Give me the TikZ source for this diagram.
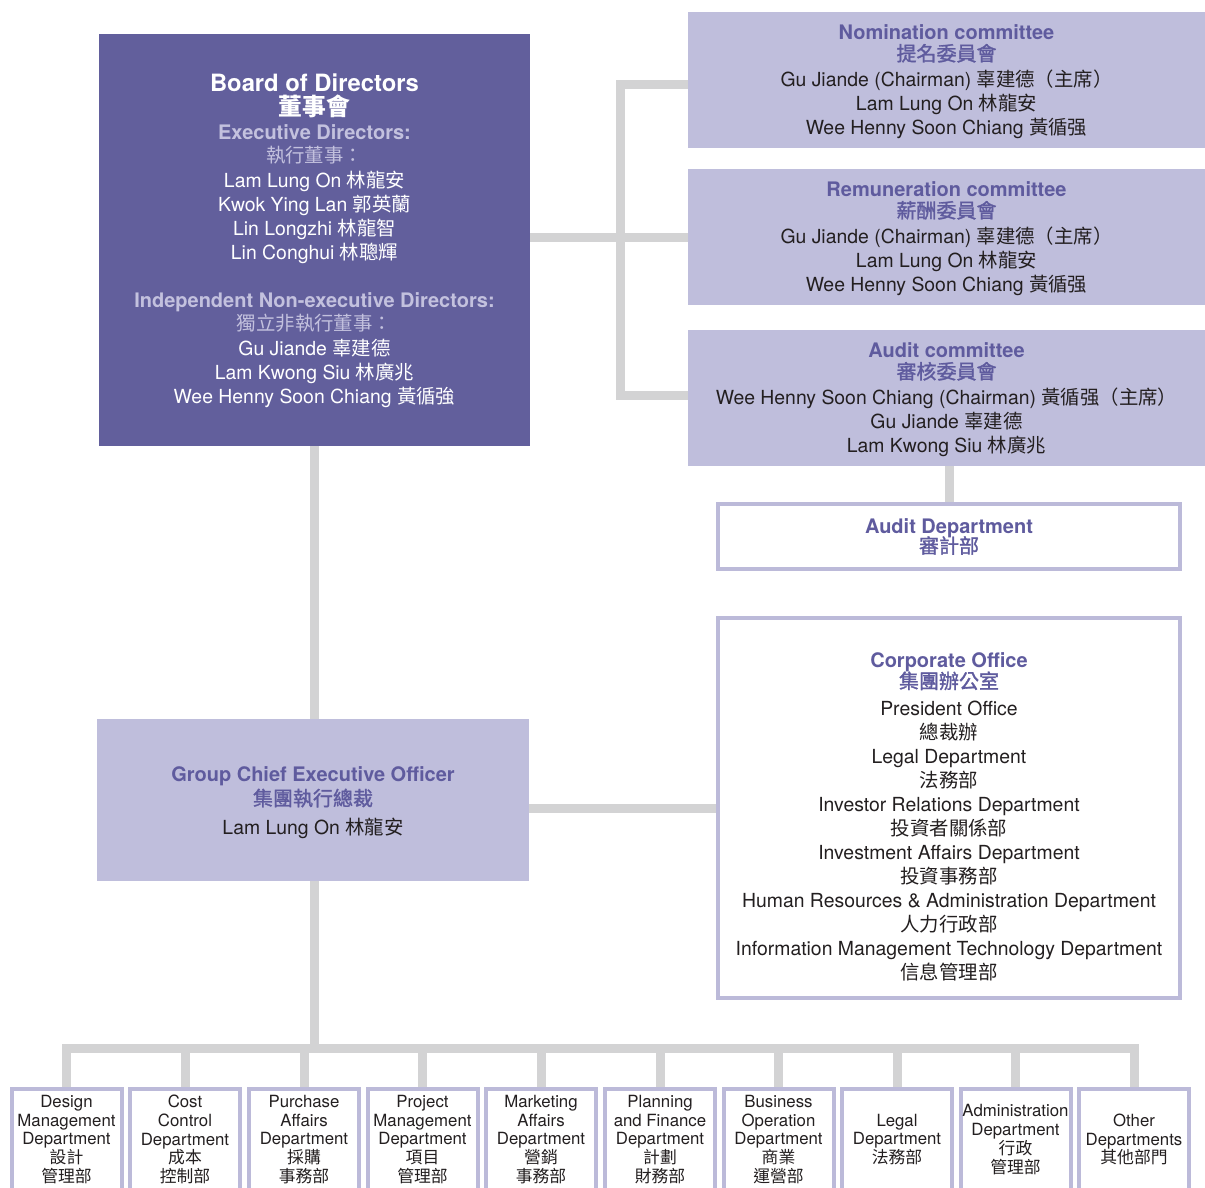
\documentclass[tikz,border=0pt]{standalone}
\usepackage{fontspec}
\setmainfont{TeX Gyre Heros}
\newfontfamily\cjk{Noto Sans CJK TC}
\newfontfamily\cjkh[FakeBold=1.5]{Noto Sans CJK TC}
\usetikzlibrary{backgrounds}
\definecolor{boardpurple}{HTML}{625F9C}
\definecolor{lightpurple}{HTML}{BFBEDC}
\definecolor{headpurple}{HTML}{5F5B9E}
\definecolor{execlight}{HTML}{C3C1DE}
\definecolor{linegray}{HTML}{D3D3D4}
\definecolor{borderpurple}{HTML}{BCBAD9}
\definecolor{textdark}{HTML}{231F20}
\newcommand\zh[1]{{\cjk #1}}
\newcommand\hd[1]{{\fontsize{20}{24}\selectfont\bfseries\color{headpurple}#1}}
\newcommand\hdzh[1]{{\fontsize{20}{24}\selectfont\cjkh\color{headpurple}#1}}
\newcommand\padtop[1]{\rule{0pt}{#1}}
\tikzset{
  conn/.style={draw=linegray, line width=9pt},
  basebox/.style={rectangle, inner sep=0pt, outer sep=0pt, align=center, text=textdark,
    font=\fontsize{19.4}{24}\selectfont},
  darkbox/.style={basebox, fill=boardpurple, text=white},
  lightbox/.style={basebox, fill=lightpurple},
  outlinebox/.style={basebox, draw=borderpurple, line width=4pt, fill=white},
  dept/.style={outlinebox, minimum width=110pt, minimum height=101pt,
    font=\fontsize{16.8}{18.7}\selectfont},
}
\begin{document}
\begin{tikzpicture}[x=1pt,y=-1pt]
\useasboundingbox (0,0) rectangle (1205,1187);
\begin{scope}[on background layer]
  \fill[white] (0,0) rectangle (1205,1187);
\end{scope}
\clip (0,0) rectangle (1205,1187);

% Board
\node[darkbox, minimum width=431pt, minimum height=412pt] (board) at (314.5,240) {%
  \padtop{19.5pt}{\fontsize{23.8}{24}\selectfont\bfseries Board of Directors}\\[0pt]
  {\fontsize{23.8}{24}\selectfont\bfseries\cjk 董事會}\\[-0.5pt]
  {\fontsize{20}{24}\selectfont\bfseries\color{execlight}Executive Directors:}\\[-1pt]
  {\color{execlight}\cjk 執行董事：}\\[1pt]
  Lam Lung On \zh{林龍安}\\
  Kwok Ying Lan \zh{郭英蘭}\\
  Lin Longzhi \zh{林龍智}\\
  Lin Conghui \zh{林聰輝}\\[24pt]
  {\fontsize{20}{24}\selectfont\bfseries\color{execlight}Independent Non-executive Directors:}\\[-1pt]
  {\color{execlight}\cjk 獨立非執行董事：}\\[1pt]
  Gu Jiande \zh{辜建德}\\
  Lam Kwong Siu \zh{林廣兆}\\
  Wee Henny Soon Chiang \zh{黃循強}};

% Committees
\node[lightbox, minimum width=517pt, minimum height=136pt] (nom) at (946.5,80) {%
  \padtop{19pt}\hd{Nomination committee}\\[-3pt]
  \hdzh{提名委員會}\\[2pt]
  Gu Jiande (Chairman) \zh{辜建德（主席）}\\
  Lam Lung On \zh{林龍安}\\
  Wee Henny Soon Chiang \zh{黃循强}};
\node[lightbox, minimum width=517pt, minimum height=136pt] (rem) at (946.5,237) {%
  \padtop{19pt}\hd{Remuneration committee}\\[-3pt]
  \hdzh{薪酬委員會}\\[2pt]
  Gu Jiande (Chairman) \zh{辜建德（主席）}\\
  Lam Lung On \zh{林龍安}\\
  Wee Henny Soon Chiang \zh{黃循强}};
\node[lightbox, minimum width=517pt, minimum height=136pt] (aud) at (946.5,398) {%
  \padtop{19pt}\hd{Audit committee}\\[-3pt]
  \hdzh{審核委員會}\\[2pt]
  Wee Henny Soon Chiang (Chairman) \zh{黃循强（主席）}\\
  Gu Jiande \zh{辜建德}\\
  Lam Kwong Siu \zh{林廣兆}};
\node[outlinebox, minimum width=462pt, minimum height=65pt] (auddept) at (949,536.5) {%
  \hd{Audit Department}\\[-4pt]
  \hdzh{審計部}};

% CEO
\node[lightbox, minimum width=432pt, minimum height=162pt] (ceo) at (313,800) {%
  \padtop{20.6pt}\hd{Group Chief Executive Officer}\\[0pt]
  \hdzh{集團執行總裁}\\[5pt]
  Lam Lung On \zh{林龍安}};

% Corporate office
\node[outlinebox, minimum width=462pt, minimum height=380pt] (corp) at (949,808) {%
  \padtop{32.6pt}\hd{Corporate Office}\\[-3pt]
  \hdzh{集團辦公室}\\[3pt]
  President Office\\
  \zh{總裁辦}\\
  Legal Department\\
  \zh{法務部}\\
  Investor Relations Department\\
  \zh{投資者關係部}\\
  Investment Affairs Department\\
  \zh{投資事務部}\\
  Human Resources \& Administration Department\\
  \zh{人力行政部}\\
  Information Management Technology Department\\
  \zh{信息管理部}};

% Departments
\node[dept] (d1) at (66.5,1139.5) {Design\\Management\\Department\\\zh{設計}\\\zh{管理部}};
\node[dept] (d2) at (185,1139.5) {Cost\\Control\\Department\\\zh{成本}\\\zh{控制部}};
\node[dept] (d3) at (304,1139.5) {Purchase\\Affairs\\Department\\\zh{採購}\\\zh{事務部}};
\node[dept] (d4) at (422.5,1139.5) {Project\\Management\\Department\\\zh{項目}\\\zh{管理部}};
\node[dept] (d5) at (541,1139.5) {Marketing\\Affairs\\Department\\\zh{營銷}\\\zh{事務部}};
\node[dept] (d6) at (660,1139.5) {Planning\\and Finance\\Department\\\zh{計劃}\\\zh{財務部}};
\node[dept] (d7) at (778.5,1139.5) {Business\\Operation\\Department\\\zh{商業}\\\zh{運營部}};
\node[dept] (d8) at (897,1139.5) {Legal\\Department\\\zh{法務部}};
\node[dept] (d9) at (1015.5,1139.5) {Administration\\Department\\\zh{行政}\\\zh{管理部}};
\node[dept] (d10) at (1134,1139.5) {Other\\Departments\\\zh{其他部門}};

\coordinate (jn) at (620,84);
\coordinate (ja) at (620,395);
\coordinate (bus) at (314,1048);

\begin{scope}[on background layer]
  \draw[conn] (nom.west |- jn) -- (jn) -- (ja) -- (aud.west |- ja);
  \draw[conn] (board.east |- rem.west) -- (rem.west);
  \draw[conn] (auddept.north) -- (auddept.north |- aud.south);
  \draw[conn] (board.south) -- (board.south |- ceo.north);
  \draw[conn] (ceo.east |- corp.west) -- (corp.west);
  \draw[conn] (ceo.south -| bus) -- (bus);
  \draw[conn] (d1.north) -- (d1.north |- bus) -- (d10.north |- bus) -- (d10.north);
  \foreach \i in {2,...,9} {
    \draw[conn] (d\i.north) -- (d\i.north |- bus);
  }
\end{scope}
\end{tikzpicture}
\end{document}
